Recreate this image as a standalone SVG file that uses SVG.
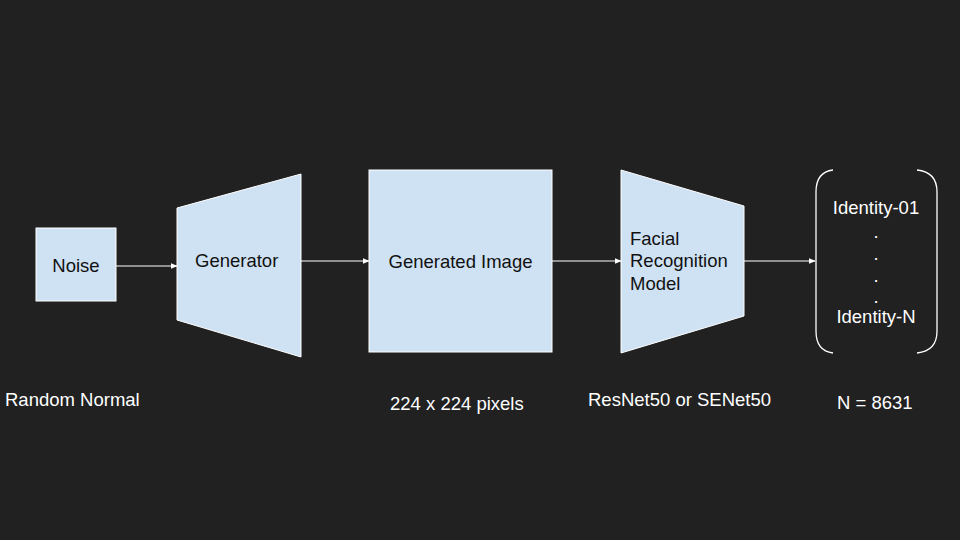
<svg xmlns="http://www.w3.org/2000/svg" width="960" height="540" viewBox="0 0 960 540">
<defs>
<style>
.shape{fill:#cfe2f3;stroke:#ffffff;stroke-width:1}
.dk{font-family:"Liberation Sans",Arial,sans-serif;font-size:18.5px;fill:#111111}
.lt{font-family:"Liberation Sans",Arial,sans-serif;font-size:18.5px;fill:#ffffff}
.conn{stroke:#ffffff;stroke-width:1;fill:none;marker-end:url(#ah)}
.br{stroke:#ffffff;stroke-width:1.3;fill:none}
</style>
<marker id="ah" viewBox="0 0 10 10" refX="9" refY="5" markerWidth="7" markerHeight="7" markerUnits="userSpaceOnUse" orient="auto">
<path d="M0,1 L10,5 L0,9 Z" fill="#ffffff"/>
</marker>
</defs>
<rect width="960" height="540" fill="#212121"/>
<g id="connectors">
<line class="conn" x1="116" y1="266" x2="177" y2="266"/>
<line class="conn" x1="301" y1="261" x2="369" y2="261"/>
<line class="conn" x1="552" y1="261" x2="621" y2="261"/>
<line class="conn" x1="744" y1="261" x2="815" y2="261"/>
</g>
<g id="noise">
<rect class="shape" x="36" y="228" width="80" height="73"/>
<text class="dk" x="76" y="272" text-anchor="middle">Noise</text>
</g>
<g id="generator">
<polygon class="shape" points="177,208 301,174 301,357 177,320"/>
<text class="dk" x="195" y="267">Generator</text>
</g>
<g id="generated-image">
<rect class="shape" x="369" y="170" width="183" height="182"/>
<text class="dk" x="460.5" y="268" text-anchor="middle">Generated Image</text>
</g>
<g id="facial-recognition">
<polygon class="shape" points="621,170 744,206 744,316 621,353"/>
<text class="dk" x="630" y="245">Facial</text>
<text class="dk" x="630" y="267">Recognition</text>
<text class="dk" x="630" y="290">Model</text>
</g>
<g id="identities">
<path class="br" d="M833,170 Q816,172 816,192 L816,331 Q816,351 833,353"/>
<path class="br" d="M917,170 Q937,172 937,192 L937,331 Q937,351 917,353"/>
<text class="lt" x="876" y="214" text-anchor="middle">Identity-01</text>
<text class="lt" x="876" y="238" text-anchor="middle">.</text>
<text class="lt" x="876" y="260" text-anchor="middle">.</text>
<text class="lt" x="876" y="282" text-anchor="middle">.</text>
<text class="lt" x="876" y="303" text-anchor="middle">.</text>
<text class="lt" x="876" y="323" text-anchor="middle">Identity-N</text>
</g>
<g id="labels">
<text class="lt" x="5" y="406">Random Normal</text>
<text class="lt" x="390" y="410">224 x 224 pixels</text>
<text class="lt" x="588" y="406">ResNet50 or SENet50</text>
<text class="lt" x="837" y="409">N = 8631</text>
</g>
</svg>
